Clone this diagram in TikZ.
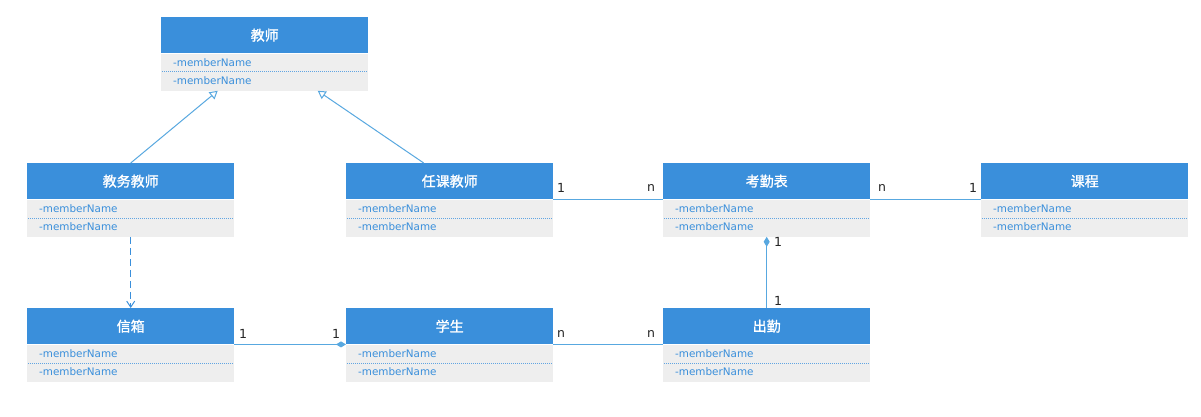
\documentclass[tikz,border=0pt]{standalone}
\usepackage{fontspec}
\setmainfont{DejaVu Sans}
\newfontfamily\cjk[FakeBold=1.2]{Noto Sans CJK SC}
\usetikzlibrary{arrows.meta,calc}
\definecolor{hdr}{RGB}{58,143,219}
\definecolor{bodybg}{RGB}{238,238,238}
\definecolor{txt}{RGB}{58,143,219}
\definecolor{lnk}{RGB}{88,168,224}
\tikzset{
  hdrbox/.style={fill=hdr, draw=none, minimum width=207pt, minimum height=36pt, inner sep=0pt,
    text=white, font=\cjk\fontsize{14}{16}\selectfont, anchor=north west},
  bodybox/.style={fill=bodybg, draw=none, minimum width=207pt, minimum height=37pt, inner sep=0pt, anchor=north west},
  attr/.style={text=txt, font=\fontsize{10.4}{12}\selectfont, anchor=west, inner sep=0pt},
  sepline/.style={draw=txt!80, dash pattern=on 0.8pt off 1.2pt, line width=0.8pt},
  assoc/.style={draw=lnk, line width=1.3pt},
  inh/.style={draw=lnk, line width=1pt, -{Triangle[open,width=9pt,length=8pt,fill=white]}},
  dep/.style={draw=hdr, line width=1pt, dash pattern=on 7pt off 4pt, -{Straight Barb[width=8pt,length=6pt]}},
  mult/.style={font=\fontsize{12.5}{14}\selectfont, text=black!85, inner sep=0pt},
}
\newcommand\umlclass[4]{%
  \node[hdrbox] (#1) at (#2,#3) {#4};
  \node[bodybox] (#1b) at (#1.south west) {};
  \node[attr] (#1a) at ($(#1b.north west)+(12,9.5)$) {-memberName};
  \node[attr] (#1c) at ($(#1b.north west)+(12,27.5)$) {-memberName};
  \draw[sepline] ($(#1b.north west)+(1,18.5)$) -- ($(#1b.north east)+(-1,18.5)$);
}
\begin{document}
\begin{tikzpicture}[x=1pt,y=-1pt]
\useasboundingbox[fill=white] (0,0) rectangle (1201,417);
\umlclass{js}{161}{17}{教师}
\umlclass{jw}{27}{163}{教务教师}
\umlclass{rk}{346}{163}{任课教师}
\umlclass{kq}{663}{163}{考勤表}
\umlclass{kc}{981}{163}{课程}
\umlclass{xx}{27}{308}{信箱}
\umlclass{xs}{346}{308}{学生}
\umlclass{cq}{663}{308}{出勤}
% generalisations
\draw[inh] (jw.north) -- ($(jsb.south)+(-47,0)$);
\draw[inh] ($(rk.north)+(-26,0)$) -- ($(jsb.south)+(53,0)$);
% dependency
\draw[dep] (jwb.south) -- (xx.north);
% associations
\draw[assoc] (rk.south east) -- (kq.south west);
\node[mult] at (561,188) {1};
\node[mult] at (651,188) {n};
\draw[assoc] (kq.south east) -- (kc.south west);
\node[mult] at (882,188) {n};
\node[mult] at (973,188) {1};
\draw[assoc, {Diamond[width=6pt,length=10pt]}-] (kqb.south) -- (cq.north);
\node[mult] at (778,242) {1};
\node[mult] at (778,301) {1};
\draw[assoc, -{Diamond[width=6pt,length=10pt]}] (xx.south east) -- (xs.south west);
\node[mult] at (243,334) {1};
\node[mult] at (336,334) {1};
\draw[assoc] (xs.south east) -- (cq.south west);
\node[mult] at (561,334) {n};
\node[mult] at (651,334) {n};
\end{tikzpicture}
\end{document}
